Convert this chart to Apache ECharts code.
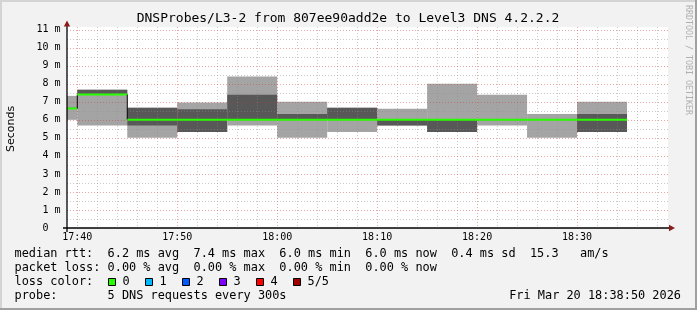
<!DOCTYPE html>
<html><head><meta charset="utf-8">
<script src="https://cdn.jsdelivr.net/npm/echarts@6/dist/echarts.min.js"></script>
<style>html,body{margin:0;padding:0;background:#f2f2f2}#c{width:697px;height:310px}</style>
</head><body><div id="c"></div>
<script>
// ---- data (ms) ----
const stepStarts = ['17:35','17:40','17:45','17:50','17:55','18:00','18:05','18:10','18:15','18:20','18:25','18:30'];
const stepMinutes = 5;
const pingMin    = [6.00, 5.68, 5.00, 5.33, 5.68, 5.00, 5.33, 5.68, 5.33, 5.68, 5.00, 5.33];
const ping2      = [6.60, 7.40, 5.68, 5.33, 6.00, 6.00, 6.00, 5.68, 5.33, 6.00, 6.00, 5.33];
const pingMedian = [6.63, 7.40, 6.00, 6.00, 6.00, 6.00, 6.00, 6.00, 6.00, 6.00, 6.00, 6.00];
const ping4      = [6.67, 7.67, 6.67, 6.59, 7.39, 6.33, 6.67, 6.00, 6.00, 6.00, 6.00, 6.33];
const pingMax    = [7.33, 7.67, 6.67, 6.96, 8.41, 7.00, 6.67, 6.61, 8.00, 7.39, 6.33, 7.00];

const xTickLabels = ['17:40','17:50','18:00','18:10','18:20','18:30'];
const xMinorTicks = ['17:42','17:44','17:46','17:48','17:52','17:54','17:56','17:58','18:02','18:04','18:06','18:08','18:12','18:14','18:16','18:18','18:22','18:24','18:26','18:28','18:32','18:34','18:36','18:38'];
const yMajorTicks = [1,2,3,4,5,6,7,8,9,10,11];
const yMinorTicks = [0.5,1.5,2.5,3.5,4.5,5.5,6.5,7.5,8.5,9.5,10.5];
const yLabelTicks = [0,1,2,3,4,5,6,7,8,9,10,11];

const lossColors = ['#26ff00','#00b8ff','#0059ff','#7e00ff','#ff0000','#a00000'];
const lossLabels = ['0','1','2','3','4','5/5'];

const titleText = 'DNSProbes/L3-2 from 807ee90add2e to Level3 DNS 4.2.2.2';
const legendLine1 = 'median rtt:  6.2 ms avg  7.4 ms max  6.0 ms min  6.0 ms now  0.4 ms sd  15.3   am/s';
const legendLine2 = 'packet loss: 0.00 % avg  0.00 % max  0.00 % min  0.00 % now';
const legendLine3 = 'loss color:';
const legendLine4 = 'probe:       5 DNS requests every 300s';
const dateText = 'Fri Mar 20 18:38:50 2026';

// ---- helpers ----
const BASE = 17*60+40;
const toMin = s => { const [h,m] = s.split(':').map(Number); return h*60+m-BASE; };
const fmtMin = v => { const t = BASE + Math.round(v); const h = Math.floor(t/60), m = t%60; return h+':'+String(m).padStart(2,'0'); };

const smokeData = stepStarts.map((s,i)=>[toMin(s), toMin(s)+stepMinutes, pingMin[i], ping2[i], pingMedian[i], ping4[i], pingMax[i]]);
const medianData = stepStarts.map((s,i)=>[toMin(s), toMin(s)+stepMinutes, pingMedian[i], i>0 ? pingMedian[i-1] : pingMedian[i]]);

const MONO = '"DejaVu Sans Mono", monospace';
const chart = echarts.init(document.getElementById('c'), null, {renderer:'canvas'});

function clampX(x, cs){ return Math.max(cs.x, Math.min(cs.x+cs.width, x)); }

const gridV = (vals, color) => ({
  type:'custom', z:3, silent:true, data: vals.map(v=>[typeof v==='string'?toMin(v):v]),
  renderItem(params, api){
    const cs = params.coordSys; const x = Math.round(api.coord([api.value(0),0])[0])+0.5;
    return {type:'line', shape:{x1:x,y1:cs.y,x2:x,y2:cs.y+cs.height}, style:{stroke:color, lineWidth:1, lineDash:[1,2]}};
  }
});
const gridH = (vals, color) => ({
  type:'custom', z:3, silent:true, data: vals.map(v=>[0,v]),
  renderItem(params, api){
    const cs = params.coordSys; const y = Math.round(api.coord([0,api.value(1)])[1])+0.5;
    return {type:'line', shape:{x1:cs.x,y1:y,x2:cs.x+cs.width,y2:y}, style:{stroke:color, lineWidth:1, lineDash:[1,2]}};
  }
});

const MINOR = 'rgba(140,140,140,0.45)';
const MAJOR = 'rgba(200,60,60,0.45)';

const graphics = [
  // frame
  {type:'rect', shape:{x:0,y:0,width:697,height:2}, style:{fill:'#d4d4d4'}, z:0},
  {type:'rect', shape:{x:0,y:0,width:2,height:310}, style:{fill:'#d4d4d4'}, z:0},
  {type:'rect', shape:{x:0,y:308,width:697,height:2}, style:{fill:'#a0a0a0'}, z:0},
  {type:'rect', shape:{x:695,y:0,width:2,height:310}, style:{fill:'#a0a0a0'}, z:0},
  // axes
  {type:'line', shape:{x1:67,y1:232,x2:67,y2:24}, style:{stroke:'#000',lineWidth:1.3}, z:20},
  {type:'line', shape:{x1:63,y1:228,x2:671,y2:228}, style:{stroke:'#000',lineWidth:1.3}, z:20},
  {type:'polygon', shape:{points:[[67,20.5],[63.8,26.5],[70.2,26.5]]}, style:{fill:'#8b1a1a'}, z:21},
  {type:'polygon', shape:{points:[[675,228],[669,224.8],[669,231.2]]}, style:{fill:'#8b1a1a'}, z:21},
  // title
  {type:'text', x:348, y:19, style:{text:titleText, font:'13px '+MONO, fill:'#000', align:'center', verticalAlign:'middle'}},
  // y name
  {type:'text', x:11, y:129, rotation:Math.PI/2, style:{text:'Seconds', font:'11px "DejaVu Sans", sans-serif', fill:'#000', align:'center', verticalAlign:'middle'}},
  // watermark
  {type:'text', x:688, y:5, rotation:-Math.PI/2, style:{text:'RRDTOOL / TOBI OETIKER', font:'8.3px '+MONO, fill:'#b0b0b0', align:'left', verticalAlign:'middle'}},
  // legend lines
  {type:'text', x:14.5, y:254, style:{text:legendLine1, font:'11.9px '+MONO, fill:'#000', align:'left', verticalAlign:'middle'}},
  {type:'text', x:14.5, y:268, style:{text:legendLine2, font:'11.9px '+MONO, fill:'#000', align:'left', verticalAlign:'middle'}},
  {type:'text', x:14.5, y:282, style:{text:legendLine3, font:'11.9px '+MONO, fill:'#000', align:'left', verticalAlign:'middle'}},
  {type:'text', x:14.5, y:296, style:{text:legendLine4, font:'11.9px '+MONO, fill:'#000', align:'left', verticalAlign:'middle'}},
  {type:'text', x:681, y:296, style:{text:dateText, font:'11.9px '+MONO, fill:'#000', align:'right', verticalAlign:'middle'}},
];
lossColors.forEach((c,i)=>{
  const bx = 108.5 + i*37;
  graphics.push({type:'rect', shape:{x:bx, y:278.5, width:7, height:7}, style:{fill:c, stroke:'#000', lineWidth:1}});
  graphics.push({type:'text', x:bx+14, y:282, style:{text:lossLabels[i], font:'11.9px '+MONO, fill:'#000', align:'left', verticalAlign:'middle'}});
});

chart.setOption({
  animation:false,
  backgroundColor:'#f2f2f2',
  grid:{left:67, right:29, top:27, bottom:82, show:true, backgroundColor:'#fff', borderWidth:0},
  xAxis:{type:'value', min:-1.03, max:59.1,
    axisLine:{show:false}, axisTick:{show:false}, splitLine:{show:false},
    axisLabel:{customValues:xTickLabels.map(toMin), formatter:v=>fmtMin(v), margin:4, fontFamily:MONO, fontSize:10, color:'#000'}},
  yAxis:{type:'value', min:0, max:11.15,
    axisLine:{show:false}, axisTick:{show:false}, splitLine:{show:false},
    axisLabel:{customValues:yLabelTicks, formatter:v=> v===0 ? '0  ' : v+' m', margin:6.5, fontFamily:MONO, fontSize:10, color:'#000'}},
  series:[
    {type:'custom', z:2, silent:true, data:smokeData,
      renderItem(params, api){
        const cs = params.coordSys;
        const x0 = clampX(api.coord([api.value(0),0])[0], cs), x1 = clampX(api.coord([api.value(1),0])[0], cs);
        const y = v => api.coord([0,v])[1];
        const p1=api.value(2), p2=api.value(3), p4=api.value(5), p5=api.value(6);
        return {type:'group', children:[
          {type:'rect', shape:{x:x0, y:y(p5), width:x1-x0, height:y(p1)-y(p5)}, style:{fill:'#a4a4a4'}},
          {type:'rect', shape:{x:x0, y:y(p4), width:x1-x0, height:y(p2)-y(p4)}, style:{fill:'#585858'}}
        ]};
      }},
    gridV(xMinorTicks, MINOR),
    gridV(xTickLabels, MAJOR),
    gridH(yMinorTicks, MINOR),
    gridH(yMajorTicks, MAJOR),
    {type:'custom', z:5, silent:true, data:medianData,
      renderItem(params, api){
        const cs = params.coordSys;
        const xs = api.coord([api.value(0),0])[0];
        const x0 = clampX(xs, cs), x1 = clampX(api.coord([api.value(1),0])[0], cs);
        const ym = api.coord([0,api.value(2)])[1], yp = api.coord([0,api.value(3)])[1];
        const ch = [];
        if (xs >= cs.x && Math.abs(ym-yp) > 0.5) ch.push({type:'line', shape:{x1:x0, y1:yp, x2:x0, y2:ym}, style:{stroke:'#000', lineWidth:1}});
        ch.push({type:'line', shape:{x1:x0, y1:ym, x2:x1, y2:ym}, style:{stroke:lossColors[0], lineWidth:2}});
        return {type:'group', children:ch};
      }}
  ],
  graphic:graphics
});
</script></body></html>
